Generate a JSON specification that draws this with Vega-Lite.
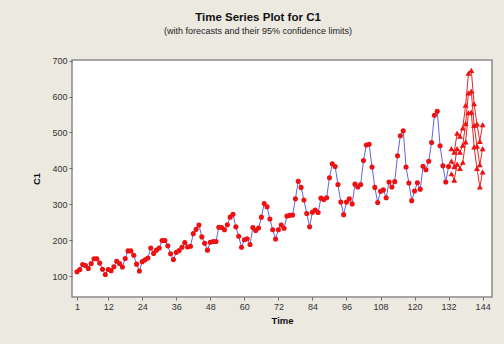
{
  "$schema": "https://vega.github.io/schema/vega-lite/v6.json",
  "width": 420,
  "height": 237,
  "autosize": {"type": "none"},
  "padding": {"left": 72, "top": 60, "right": 12, "bottom": 47},
  "background": "#ECE9E1",
  "title": {
    "text": "Time Series Plot for C1",
    "subtitle": "(with forecasts and their 95% confidence limits)",
    "anchor": "middle",
    "dx": -24,
    "offset": 21,
    "font": "Liberation Sans",
    "fontSize": 11.5,
    "fontWeight": "bold",
    "color": "#111",
    "subtitleFont": "Liberation Sans",
    "subtitleFontSize": 9,
    "subtitleColor": "#222",
    "subtitlePadding": 3
  },
  "config": {
    "view": {"fill": "white", "stroke": "#8a8a8a", "strokeWidth": 1.5},
    "axis": {
      "labelFont": "Liberation Sans",
      "labelFontSize": 9,
      "labelColor": "#333",
      "titleFont": "Liberation Sans",
      "titleFontSize": 9.5,
      "titleFontWeight": "bold",
      "titleColor": "#111",
      "grid": false,
      "domain": false,
      "tickColor": "#666",
      "tickSize": 3
    }
  },
  "datasets": {
    "obs": [
      {"t":1,"v":112},{"t":2,"v":118},{"t":3,"v":132},{"t":4,"v":129},{"t":5,"v":121},{"t":6,"v":135},{"t":7,"v":148},{"t":8,"v":148},{"t":9,"v":136},{"t":10,"v":119},{"t":11,"v":104},{"t":12,"v":118},
      {"t":13,"v":115},{"t":14,"v":126},{"t":15,"v":141},{"t":16,"v":135},{"t":17,"v":125},{"t":18,"v":149},{"t":19,"v":170},{"t":20,"v":170},{"t":21,"v":158},{"t":22,"v":133},{"t":23,"v":114},{"t":24,"v":140},
      {"t":25,"v":145},{"t":26,"v":150},{"t":27,"v":178},{"t":28,"v":163},{"t":29,"v":172},{"t":30,"v":178},{"t":31,"v":199},{"t":32,"v":199},{"t":33,"v":184},{"t":34,"v":162},{"t":35,"v":146},{"t":36,"v":166},
      {"t":37,"v":171},{"t":38,"v":180},{"t":39,"v":193},{"t":40,"v":181},{"t":41,"v":183},{"t":42,"v":218},{"t":43,"v":230},{"t":44,"v":242},{"t":45,"v":209},{"t":46,"v":191},{"t":47,"v":172},{"t":48,"v":194},
      {"t":49,"v":196},{"t":50,"v":196},{"t":51,"v":236},{"t":52,"v":235},{"t":53,"v":229},{"t":54,"v":243},{"t":55,"v":264},{"t":56,"v":272},{"t":57,"v":237},{"t":58,"v":211},{"t":59,"v":180},{"t":60,"v":201},
      {"t":61,"v":204},{"t":62,"v":188},{"t":63,"v":235},{"t":64,"v":227},{"t":65,"v":234},{"t":66,"v":264},{"t":67,"v":302},{"t":68,"v":293},{"t":69,"v":259},{"t":70,"v":229},{"t":71,"v":203},{"t":72,"v":229},
      {"t":73,"v":242},{"t":74,"v":233},{"t":75,"v":267},{"t":76,"v":269},{"t":77,"v":270},{"t":78,"v":315},{"t":79,"v":364},{"t":80,"v":347},{"t":81,"v":312},{"t":82,"v":274},{"t":83,"v":237},{"t":84,"v":278},
      {"t":85,"v":284},{"t":86,"v":277},{"t":87,"v":317},{"t":88,"v":313},{"t":89,"v":318},{"t":90,"v":374},{"t":91,"v":413},{"t":92,"v":405},{"t":93,"v":355},{"t":94,"v":306},{"t":95,"v":271},{"t":96,"v":306},
      {"t":97,"v":315},{"t":98,"v":301},{"t":99,"v":356},{"t":100,"v":348},{"t":101,"v":355},{"t":102,"v":422},{"t":103,"v":465},{"t":104,"v":467},{"t":105,"v":404},{"t":106,"v":347},{"t":107,"v":305},{"t":108,"v":336},
      {"t":109,"v":340},{"t":110,"v":318},{"t":111,"v":362},{"t":112,"v":348},{"t":113,"v":363},{"t":114,"v":435},{"t":115,"v":491},{"t":116,"v":505},{"t":117,"v":404},{"t":118,"v":359},{"t":119,"v":310},{"t":120,"v":337},
      {"t":121,"v":360},{"t":122,"v":342},{"t":123,"v":406},{"t":124,"v":396},{"t":125,"v":420},{"t":126,"v":472},{"t":127,"v":548},{"t":128,"v":559},{"t":129,"v":463},{"t":130,"v":407},{"t":131,"v":362},{"t":132,"v":405}
    ],
    "fc": [
      {"t":133,"v":420,"s":"Forecast"},{"t":134,"v":405,"s":"Forecast"},{"t":135,"v":455,"s":"Forecast"},{"t":136,"v":445,"s":"Forecast"},{"t":137,"v":465,"s":"Forecast"},{"t":138,"v":525,"s":"Forecast"},{"t":139,"v":610,"s":"Forecast"},{"t":140,"v":615,"s":"Forecast"},{"t":141,"v":520,"s":"Forecast"},{"t":142,"v":462,"s":"Forecast"},{"t":143,"v":410,"s":"Forecast"},{"t":144,"v":455,"s":"Forecast"},
      {"t":133,"v":385,"s":"Lower"},{"t":134,"v":367,"s":"Lower"},{"t":135,"v":412,"s":"Lower"},{"t":136,"v":400,"s":"Lower"},{"t":137,"v":417,"s":"Lower"},{"t":138,"v":474,"s":"Lower"},{"t":139,"v":555,"s":"Lower"},{"t":140,"v":557,"s":"Lower"},{"t":141,"v":460,"s":"Lower"},{"t":142,"v":400,"s":"Lower"},{"t":143,"v":348,"s":"Lower"},{"t":144,"v":390,"s":"Lower"},
      {"t":133,"v":455,"s":"Upper"},{"t":134,"v":445,"s":"Upper"},{"t":135,"v":498,"s":"Upper"},{"t":136,"v":490,"s":"Upper"},{"t":137,"v":513,"s":"Upper"},{"t":138,"v":576,"s":"Upper"},{"t":139,"v":665,"s":"Upper"},{"t":140,"v":673,"s":"Upper"},{"t":141,"v":580,"s":"Upper"},{"t":142,"v":524,"s":"Upper"},{"t":143,"v":475,"s":"Upper"},{"t":144,"v":522,"s":"Upper"}
    ]
  },
  "encoding": {
    "x": {"field": "t", "type": "quantitative", "title": "Time",
      "scale": {"domain": [-0.76, 147.3], "nice": false, "zero": false},
      "axis": {"values": [1,12,24,36,48,60,72,84,96,108,120,132,144], "titlePadding": 4}},
    "y": {"field": "v", "type": "quantitative", "title": "C1",
      "scale": {"domain": [41.5, 702], "nice": false, "zero": false},
      "axis": {"values": [100,200,300,400,500,600,700], "titlePadding": 10}}
  },
  "layer": [
    {"data": {"name": "obs"}, "mark": {"type": "line", "color": "#6464E0", "strokeWidth": 1}},
    {"data": {"name": "obs"}, "mark": {"type": "point", "shape": "circle", "filled": true, "color": "#EE1111", "opacity": 1, "size": 26}},
    {"data": {"name": "fc"}, "mark": {"type": "line", "color": "#EE2222", "strokeWidth": 1}, "encoding": {"detail": {"field": "s"}}},
    {"data": {"name": "fc"}, "mark": {"type": "point", "shape": "triangle-up", "filled": true, "color": "#EE1111", "opacity": 1, "size": 36}}
  ]
}
